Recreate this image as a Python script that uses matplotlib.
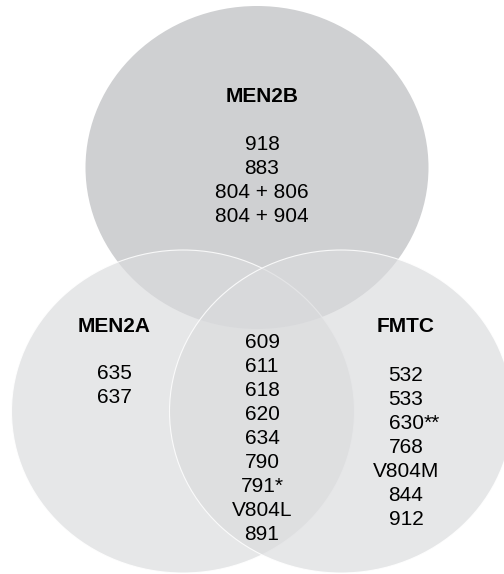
import matplotlib.pyplot as plt
from matplotlib.patches import Ellipse

# set names and the codon lists shown in each region
set_names = ['MEN2B', 'MEN2A', 'FMTC']
men2b_only = ['918', '883', '804 + 806', '804 + 904']
men2a_only = ['635', '637']
fmtc_only = ['532', '533', '630**', '768', 'V804M', '844', '912']
shared = ['609', '611', '618', '620', '634', '790', '791*', 'V804L', '891']

plt.rcParams['font.family'] = ['Liberation Sans', 'DejaVu Sans']

fig = plt.figure(figsize=(5.04, 5.74), dpi=100)
ax = fig.add_axes([0, 0, 1, 1])
ax.set_xlim(0, 504)
ax.set_ylim(574, 0)
ax.axis('off')

# circles (slightly squashed, as in the original)
w, h = 343, 323
ax.add_patch(Ellipse((257, 167.5), w, h, facecolor='#cfd0d2', edgecolor='none'))
for cx in (183, 341):
    ax.add_patch(Ellipse((cx, 411.5), w, h,
                         facecolor=(218/255, 219/255, 221/255, 0.667),
                         edgecolor=(1, 1, 1, 0.85), linewidth=0.8))

fs = 15
step = 24

def column(x, y0, labels):
    for i, lab in enumerate(labels):
        y = y0 + i * step
        stars = lab[len(lab.rstrip('*')):]
        if len(stars) > 1:
            # asterisks hang to the right of the centred number
            base = lab.rstrip('*')
            t = ax.text(x, y, base, ha='center', va='baseline', fontsize=fs)
            ax.text(x + 0.278 * len(base) * fs * 100 / 72 * 1.0, y, stars,
                    ha='left', va='baseline', fontsize=fs)
        else:
            ax.text(x, y, lab, ha='center', va='baseline', fontsize=fs)

ax.text(262, 102, set_names[0], ha='center', va='baseline', fontsize=fs, fontweight='bold')
ax.text(114, 332.5, set_names[1], ha='center', va='baseline', fontsize=fs, fontweight='bold')
ax.text(406, 332.5, set_names[2], ha='center', va='baseline', fontsize=fs, fontweight='bold')

column(262, 150.5, men2b_only)
column(114.5, 379, men2a_only)
column(406, 381, fmtc_only)
column(262, 347.5, shared)

fig.savefig('out.png', dpi=100)
